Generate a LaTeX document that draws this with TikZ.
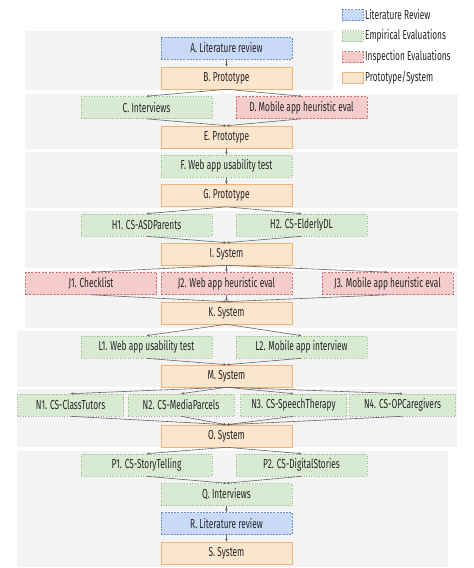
\documentclass[tikz,border=0pt]{standalone}
\usepackage{fontspec}
\setmainfont[FakeStretch=0.64]{Fira Sans}
\usetikzlibrary{arrows.meta}
\definecolor{bandc}{HTML}{F3F3F3}
\definecolor{litfill}{HTML}{C9DAF8}
\definecolor{litdraw}{HTML}{6D8FCF}
\definecolor{empfill}{HTML}{D9EAD3}
\definecolor{empdraw}{HTML}{93B883}
\definecolor{insfill}{HTML}{F4CCCC}
\definecolor{insdraw}{HTML}{D86A6A}
\definecolor{profill}{HTML}{FCE5CD}
\definecolor{prodraw}{HTML}{F2B27A}
\definecolor{txt}{HTML}{262626}
\definecolor{edgec}{HTML}{666666}
\tikzset{
  box/.style={minimum height=22pt, inner sep=0pt, text=txt, font=\fontsize{13}{15}\selectfont, line width=0.6pt},
  lit/.style={box, fill=litfill, draw=litdraw, dash pattern=on 2pt off 1.2pt},
  emp/.style={box, fill=empfill, draw=empdraw, dotted},
  ins/.style={box, fill=insfill, draw=insdraw, dash pattern=on 2pt off 1.5pt},
  pro/.style={box, fill=profill, draw=prodraw},
  wide/.style={minimum width=131pt},
  nn/.style={minimum width=106pt},
  band/.style={fill=bandc, draw=none},
  edge/.style={draw=edgec, line width=0.6pt, -{Stealth[length=3pt,width=2.6pt]}},
  legtxt/.style={anchor=west, inner sep=0pt, text=txt, font=\fontsize{13}{15}\selectfont},
  sw/.style={minimum width=21pt, minimum height=11pt, font=\tiny}
}
\begin{document}
\begin{tikzpicture}[x=1pt,y=-1pt]
\useasboundingbox (0,0) rectangle (474,568);
% bands
\fill[band] (25,31) rectangle (458,90);
\fill[band] (25,94) rectangle (458,149);
\fill[band] (25,152) rectangle (458,208);
\fill[band] (25,211) rectangle (458,268);
\fill[band] (25,271) rectangle (458,328);
\fill[band] (17,331) rectangle (457,387);
\fill[band] (17,389) rectangle (457,447);
\fill[band] (17,451) rectangle (448,567);
% legend
\fill[white] (333,0) rectangle (458,90);
\node[lit,sw] (s1) at (352.5,15) {};
\node[emp,sw] (s2) at (352.5,36) {};
\node[ins,sw] (s3) at (352.5,57) {};
\node[pro,sw] (s4) at (352.5,78) {};
\node[legtxt] (l1) at (365,15) {Literature Review};
\node[legtxt] (l2) at (365,36) {Empirical Evaluations};
\node[legtxt] (l3) at (365,57) {Inspection Evaluations};
\node[legtxt] (l4) at (365,78) {Prototype/System};
% nodes
\node[lit,wide] (A) at (226.5,48) {A. Literature review};
\node[pro,wide] (B) at (226.5,78) {B. Prototype};
\node[emp,wide] (C) at (146.5,107.5) {C. Interviews};
\node[ins,wide] (D) at (301.5,107.5) {D. Mobile app heuristic eval};
\node[pro,wide] (E) at (226.5,137) {E. Prototype};
\node[emp,wide] (F) at (226.5,166) {F. Web app usability test};
\node[pro,wide] (G) at (226.5,195.5) {G. Prototype};
\node[emp,wide] (H1) at (146.5,225) {H1. CS-ASDParents};
\node[emp,wide] (H2) at (301.5,225) {H2. CS-ElderlyDL};
\node[pro,wide] (I) at (226.5,254) {I. System};
\node[ins,wide] (J1) at (91,283.5) {J1. Checklist};
\node[ins,wide] (J2) at (226.5,283.5) {J2. Web app heuristic eval};
\node[ins,wide] (J3) at (387.5,283.5) {J3. Mobile app heuristic eval};
\node[pro,wide] (K) at (226.5,313) {K. System};
\node[emp,wide] (L1) at (146.5,347) {L1. Web app usability test};
\node[emp,wide] (L2) at (301.5,347) {L2. Mobile app interview};
\node[pro,wide] (M) at (226.5,376) {M. System};
\node[emp,nn] (N1) at (70.5,405) {N1. CS-ClassTutors};
\node[emp,nn] (N2) at (181,405) {N2. CS-MediaParcels};
\node[emp,nn] (N3) at (293.5,405) {N3. CS-SpeechTherapy};
\node[emp,nn] (N4) at (402.5,405) {N4. CS-OPCaregivers};
\node[pro,wide] (O) at (226.5,436) {O. System};
\node[emp,wide] (P1) at (146.5,465) {P1. CS-StoryTelling};
\node[emp,wide] (P2) at (301.5,465) {P2. CS-DigitalStories};
\node[emp,wide] (Q) at (226.5,494.5) {Q. Interviews};
\node[lit,wide] (R) at (226.5,523.5) {R. Literature review};
\node[pro,wide] (S) at (226.5,553) {S. System};
% edges
\foreach \a/\b in {A/B,B/C,B/D,C/E,D/E,E/F,F/G,G/H1,G/H2,H1/I,H2/I,I/J1,I/J2,I/J3,J1/K,J2/K,J3/K,K/L1,K/L2,L1/M,L2/M,M/N1,M/N2,M/N3,M/N4,N1/O,N2/O,N3/O,N4/O,O/P1,O/P2,P1/Q,P2/Q,Q/R,R/S}
  \draw[edge] (\a.south) -- (\b.north);
\end{tikzpicture}
\end{document}
